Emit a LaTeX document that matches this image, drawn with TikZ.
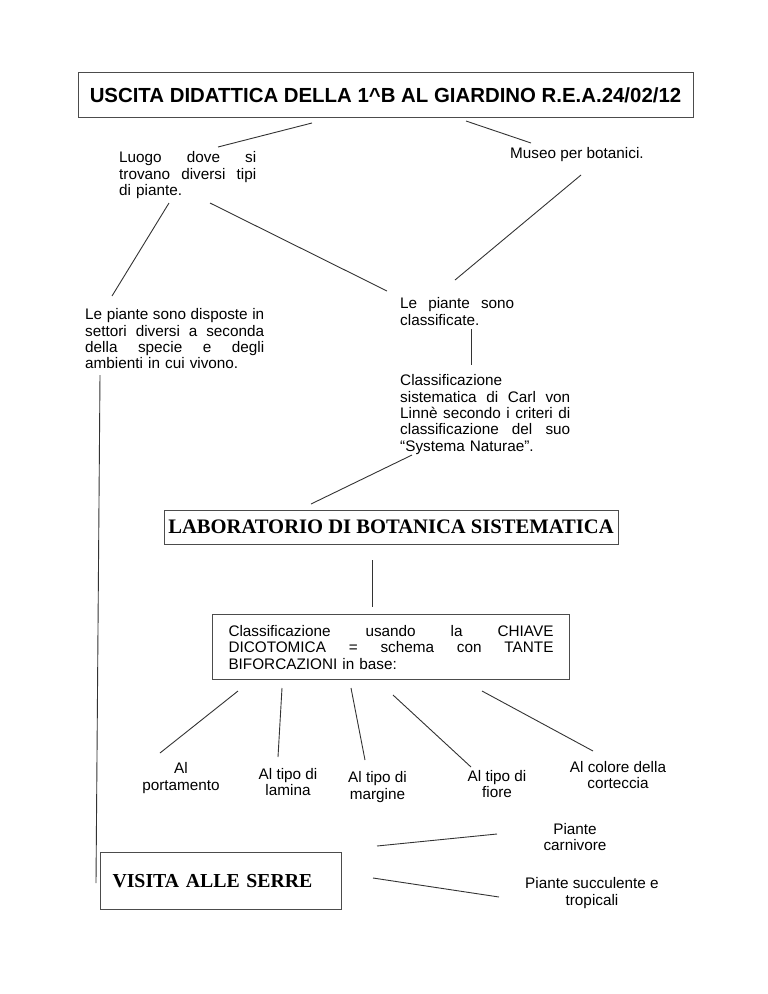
\documentclass[tikz,border=0pt]{standalone}
\usepackage{fontspec}
\setmainfont{Liberation Sans}
\newfontfamily\serifbf{Liberation Serif}
\usetikzlibrary{positioning}
% justified line / plain line inside a text block
\newcommand{\jline}[1]{\par\noindent\hbox to\hsize{\spaceskip=.278em plus 1fil\relax#1}}
\newcommand{\lline}[1]{\par\noindent\hbox{#1}}

\begin{document}
\begin{tikzpicture}[x=1pt, y=-1pt,
  txt/.style={anchor=north west, inner sep=0pt, font=\fontsize{15.3}{16.4}\selectfont},
  lbl/.style={align=center, inner sep=0pt, font=\fontsize{15.3}{16.4}\selectfont},
  box/.style={draw=black!70, line width=1pt},
  ln/.style={draw=black!80, line width=0.9pt}]
\useasboundingbox (0,0) rectangle (768,994);

% boxes
\node[box, minimum width=615, minimum height=45, font=\bfseries\fontsize{20.4}{24}\selectfont] (titolo) at (385.5,95) {USCITA DIDATTICA DELLA 1\textasciicircum B AL GIARDINO R.E.A.24/02/12};
\node[box, minimum width=454, minimum height=34, font=\serifbf\bfseries\fontsize{20.6}{24}\selectfont] (lab) at (391,527) {LABORATORIO DI BOTANICA SISTEMATICA};
\node[box, anchor=north west, text width=325, inner xsep=16, inner ysep=5, minimum height=65, font=\fontsize{15.3}{16.4}\selectfont] (chiave) at (212,614) {\jline{Classificazione usando la CHIAVE}\jline{DICOTOMICA = schema con TANTE}\lline{BIFORCAZIONI in base:\rule[-5pt]{0pt}{5pt}}};
\node[box, anchor=north west, text width=217, inner xsep=12, minimum height=57, font=\serifbf\bfseries\fontsize{19.8}{24}\selectfont] (serre) at (100,852) {VISITA ALLE SERRE};

% text blocks
\node[txt, text width=137] (luogo) at (119,146) {\jline{Luogo dove si}\jline{trovano diversi tipi}\lline{di piante.}};
\node[txt] (museo) at (510,147) {Museo per botanici.};
\node[txt, text width=179] (settori) at (85,303) {\jline{Le piante sono disposte in}\jline{settori diversi a seconda}\jline{della specie e degli}\lline{ambienti in cui vivono.}};
\node[txt, text width=114] (classif) at (400,292) {\jline{Le piante sono}\lline{classificate.}};
\node[txt, text width=170] (linne) at (400,369) {\lline{Classificazione}\jline{sistematica di Carl von}\jline{Linnè secondo i criteri di}\jline{classificazione del suo}\lline{“Systema Naturae”.}};

% labels
\node[lbl] (portam) at (181,778) {Al\\portamento};
\node[lbl] (lamina) at (288,782) {Al tipo di\\lamina};
\node[lbl] (margine) at (377.5,787) {Al tipo di\\margine};
\node[lbl] (fiore) at (497,784) {Al tipo di\\fiore};
\node[lbl] (corteccia) at (618,775) {Al colore della\\corteccia};
\node[lbl] (carnivore) at (575,837) {Piante\\carnivore};
\node[lbl] (tropicali) at (592,893) {Piante succulente e\\tropicali};

% line ends
\coordinate (t1) at (312,123); \coordinate (l1) at (218,147);
\coordinate (t2) at (466,121); \coordinate (m1) at (531,143);
\coordinate (l2) at (169,203); \coordinate (s1) at (112,296);
\coordinate (l3) at (210,203); \coordinate (c1) at (387,291);
\coordinate (m2) at (581,175); \coordinate (c2) at (455,280);
\coordinate (c3) at (471,329); \coordinate (n1) at (471,365);
\coordinate (n2) at (412,455); \coordinate (b1) at (311,504);
\coordinate (b2) at (372,560); \coordinate (k0) at (372,607);
\coordinate (k1) at (238,691); \coordinate (a1) at (160,753);
\coordinate (k2) at (282,688); \coordinate (a2) at (278,757);
\coordinate (k3) at (351,688); \coordinate (a3) at (365,760);
\coordinate (k4) at (393,695); \coordinate (a4) at (471,767);
\coordinate (k5) at (482,691); \coordinate (a5) at (593,751);
\coordinate (s2) at (100,375); \coordinate (v0) at (96,883);
\coordinate (v1) at (377,846); \coordinate (p1) at (497,834);
\coordinate (v2) at (373,878); \coordinate (p2) at (499,897);

\draw[ln] (t1) -- (l1); \draw[ln] (t2) -- (m1);
\draw[ln] (l2) -- (s1); \draw[ln] (l3) -- (c1); \draw[ln] (m2) -- (c2);
\draw[ln] (c3) -- (n1); \draw[ln] (n2) -- (b1); \draw[ln] (b2) -- (k0);
\foreach \i in {1,...,5} \draw[ln] (k\i) -- (a\i);
\draw[ln] (s2) -- (v0);
\draw[ln] (v1) -- (p1); \draw[ln] (v2) -- (p2);
\end{tikzpicture}
\end{document}
